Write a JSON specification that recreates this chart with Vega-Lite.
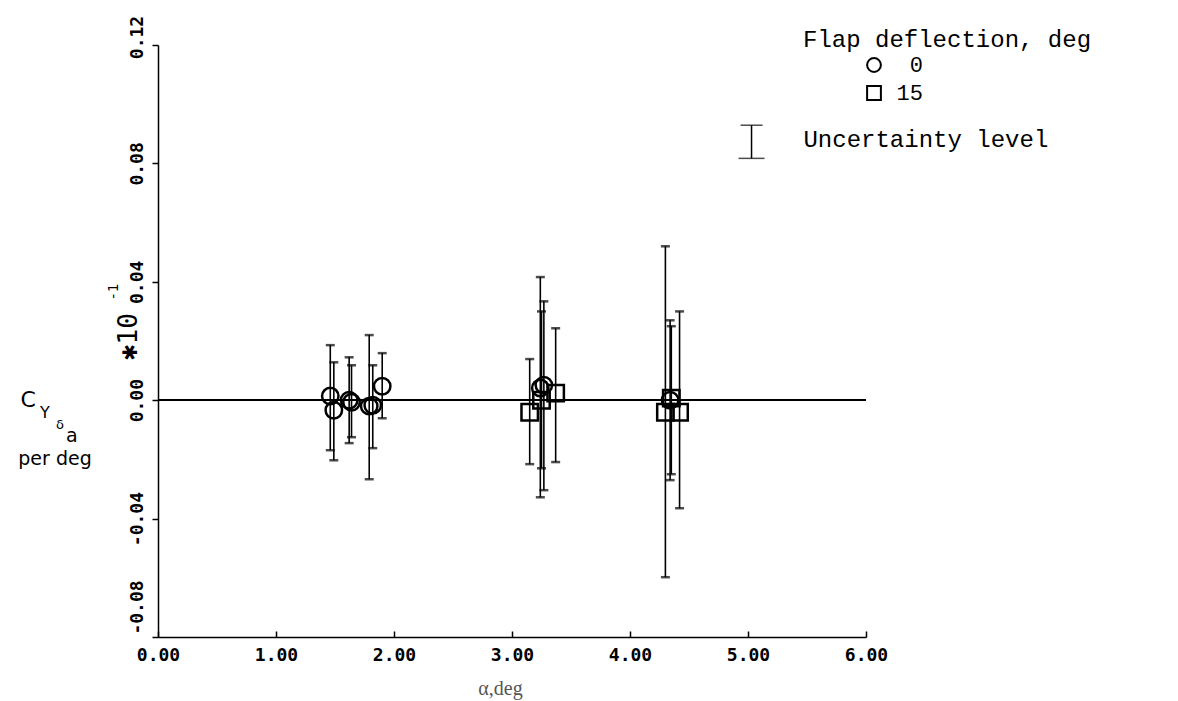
{
  "$schema": "https://vega.github.io/schema/vega-lite/v6.json",
  "width": 708,
  "height": 592,
  "autosize": "none",
  "padding": {"left": 158, "top": 45, "right": 312, "bottom": 64},
  "background": "white",
  "config": {"view": {"stroke": null}, "font": "DejaVu Sans"},
  "datasets": {
    "pts": [
      {"alpha": 1.46, "cy": 0.0014, "lo": -0.0169, "hi": 0.0186, "flap": "0"},
      {"alpha": 1.49, "cy": -0.0034, "lo": -0.0203, "hi": 0.0128, "flap": "0"},
      {"alpha": 1.62, "cy": 0.0, "lo": -0.0145, "hi": 0.0145, "flap": "0"},
      {"alpha": 1.64, "cy": -0.0007, "lo": -0.0125, "hi": 0.0118, "flap": "0"},
      {"alpha": 1.79, "cy": -0.002, "lo": -0.0267, "hi": 0.022, "flap": "0"},
      {"alpha": 1.82, "cy": -0.0017, "lo": -0.0162, "hi": 0.0118, "flap": "0"},
      {"alpha": 1.9, "cy": 0.0047, "lo": -0.0061, "hi": 0.0159, "flap": "0"},
      {"alpha": 3.24, "cy": 0.0041, "lo": -0.0328, "hi": 0.0416, "flap": "0"},
      {"alpha": 3.27, "cy": 0.0051, "lo": -0.0304, "hi": 0.0334, "flap": "0"},
      {"alpha": 4.34, "cy": 0.0, "lo": -0.027, "hi": 0.027, "flap": "0"},
      {"alpha": 3.15, "cy": -0.0041, "lo": -0.0216, "hi": 0.0139, "flap": "15"},
      {"alpha": 3.25, "cy": 0.0, "lo": -0.023, "hi": 0.03, "flap": "15"},
      {"alpha": 3.37, "cy": 0.0024, "lo": -0.0209, "hi": 0.0243, "flap": "15"},
      {"alpha": 4.3, "cy": -0.0041, "lo": -0.0598, "hi": 0.052, "flap": "15"},
      {"alpha": 4.42, "cy": -0.0041, "lo": -0.0365, "hi": 0.03, "flap": "15"},
      {"alpha": 4.35, "cy": 0.0007, "lo": -0.025, "hi": 0.025, "flap": "15"}
    ],
    "unc": [{"alpha": 5.03, "lo": 0.0817, "hi": 0.0929}],
    "notes": [
      {"id": "unc", "alpha": 5.47, "cy": 0.0878, "label": "Uncertainty level"},
      {"id": "C", "alpha": -1.1, "cy": 0.0, "label": "C"},
      {"id": "Y", "alpha": -0.958, "cy": -0.0044, "label": "Y"},
      {"id": "d", "alpha": -0.83, "cy": -0.0084, "label": "δ"},
      {"id": "a", "alpha": -0.73, "cy": -0.012, "label": "a"},
      {"id": "per", "alpha": -0.873, "cy": -0.0199, "label": "per deg"},
      {"id": "mult", "alpha": -0.25, "cy": 0.0215, "label": "✱10"},
      {"id": "exp", "alpha": -0.37, "cy": 0.0365, "label": "-1"}
    ]
  },
  "layer": [
    {
      "data": {"name": "pts"},
      "mark": {"type": "rule", "color": "black", "strokeWidth": 1.6},
      "encoding": {
        "x": {
          "field": "alpha", "type": "quantitative",
          "scale": {"domain": [0, 6]},
          "axis": {
            "values": [0, 1, 2, 3, 4, 5, 6], "format": ".2f", "grid": false, "labelFlush": false,
            "title": "α,deg", "titleFont": "Liberation Serif", "titleFontSize": 20,
            "titleFontWeight": "normal", "titleColor": "#555", "titlePadding": 14, "titleX": 342,
            "labelFont": "DejaVu Sans Mono", "labelFontWeight": "bold", "labelFontSize": 18,
            "labelColor": "black", "labelPadding": 15,
            "domainColor": "black", "domainWidth": 1.5,
            "tickColor": "black", "tickWidth": 1.5, "tickSize": -6
          }
        },
        "y": {
          "field": "lo", "type": "quantitative",
          "scale": {"domain": [-0.08, 0.12]},
          "axis": {
            "values": [-0.08, -0.04, 0, 0.04, 0.08, 0.12], "grid": false, "title": null, "labelFlush": false,
            "labelExpr": "replace(format(datum.value, '.2f'), '−', '-')",
            "labelAngle": 270, "labelAlign": "center", "labelBaseline": "bottom",
            "labelOffset": {"condition": [{"test": "datum.value < -0.07", "value": -30}, {"test": "datum.value > 0.11", "value": -8}], "value": 0},
            "labelFont": "DejaVu Sans Mono", "labelFontWeight": "bold", "labelFontSize": 18,
            "labelColor": "black", "labelPadding": 6,
            "domainColor": "black", "domainWidth": 1.5,
            "tickColor": "black", "tickWidth": 1.5, "tickSize": 6
          }
        },
        "y2": {"field": "hi"}
      }
    },
    {
      "data": {"name": "pts"},
      "mark": {"type": "rule", "color": "black", "strokeWidth": 1.5},
      "encoding": {
        "y": {"datum": 0, "type": "quantitative", "scale": {"domain": [-0.08, 0.12]}},
        "x": {"datum": 0, "type": "quantitative", "scale": {"domain": [0, 6]}},
        "x2": {"datum": 6}
      }
    },
    {
      "data": {"name": "pts"},
      "mark": {"type": "tick", "orient": "horizontal", "color": "black", "size": 9, "thickness": 2.5},
      "encoding": {
        "x": {"field": "alpha", "type": "quantitative", "scale": {"domain": [0, 6]}},
        "y": {"field": "lo", "type": "quantitative", "scale": {"domain": [-0.08, 0.12]}}
      }
    },
    {
      "data": {"name": "pts"},
      "mark": {"type": "tick", "orient": "horizontal", "color": "black", "size": 9, "thickness": 2.5},
      "encoding": {
        "x": {"field": "alpha", "type": "quantitative", "scale": {"domain": [0, 6]}},
        "y": {"field": "hi", "type": "quantitative", "scale": {"domain": [-0.08, 0.12]}}
      }
    },
    {
      "data": {"name": "pts"},
      "mark": {"type": "point", "filled": false, "color": "black", "strokeWidth": 2.5, "size": 270, "opacity": 1},
      "encoding": {
        "x": {"field": "alpha", "type": "quantitative", "scale": {"domain": [0, 6]}},
        "y": {"field": "cy", "type": "quantitative", "scale": {"domain": [-0.08, 0.12]}},
        "shape": {
          "field": "flap", "type": "nominal",
          "scale": {"domain": ["0", "15"], "range": ["circle", "square"]},
          "legend": {
            "title": "Flap deflection, deg", "orient": "none", "legendX": 645, "legendY": -17,
            "padding": 0, "titleFont": "Liberation Mono", "titleFontSize": 24, "titleLimit": 0,
            "titleFontWeight": "normal", "titleColor": "black", "titlePadding": 2,
            "labelFont": "Liberation Mono", "labelFontSize": 22, "labelColor": "black",
            "labelAlign": "right", "labelOffset": 38, "symbolOffset": 60, "labelLimit": 0,
            "symbolSize": 190, "symbolStrokeWidth": 2, "symbolStrokeColor": "black",
            "symbolFillColor": "white", "rowPadding": 6
          }
        }
      }
    },
    {
      "data": {"name": "unc"},
      "mark": {"type": "rule", "color": "black", "strokeWidth": 1.5},
      "encoding": {
        "x": {"field": "alpha", "type": "quantitative", "scale": {"domain": [0, 6]}},
        "y": {"field": "lo", "type": "quantitative", "scale": {"domain": [-0.08, 0.12]}},
        "y2": {"field": "hi"}
      }
    },
    {
      "data": {"name": "unc"},
      "mark": {"type": "tick", "orient": "horizontal", "color": "black", "size": 26, "thickness": 1.5},
      "encoding": {
        "x": {"field": "alpha", "type": "quantitative", "scale": {"domain": [0, 6]}},
        "y": {"field": "lo", "type": "quantitative", "scale": {"domain": [-0.08, 0.12]}}
      }
    },
    {
      "data": {"name": "unc"},
      "mark": {"type": "tick", "orient": "horizontal", "color": "black", "size": 22, "thickness": 1.5},
      "encoding": {
        "x": {"field": "alpha", "type": "quantitative", "scale": {"domain": [0, 6]}},
        "y": {"field": "hi", "type": "quantitative", "scale": {"domain": [-0.08, 0.12]}}
      }
    },
    {
      "data": {"name": "notes"},
      "transform": [{"filter": {"field": "id", "equal": "unc"}}],
      "mark": {"type": "text", "font": "Liberation Mono", "fontSize": 24, "align": "left", "baseline": "middle", "color": "black"},
      "encoding": {
        "x": {"field": "alpha", "type": "quantitative", "scale": {"domain": [0, 6]}},
        "y": {"field": "cy", "type": "quantitative", "scale": {"domain": [-0.08, 0.12]}},
        "text": {"field": "label"}
      }
    },
    {
      "data": {"name": "notes"},
      "transform": [{"filter": {"field": "id", "equal": "C"}}],
      "mark": {"type": "text", "font": "DejaVu Sans", "fontSize": 22, "align": "center", "baseline": "middle", "color": "black"},
      "encoding": {
        "x": {"field": "alpha", "type": "quantitative", "scale": {"domain": [0, 6]}},
        "y": {"field": "cy", "type": "quantitative", "scale": {"domain": [-0.08, 0.12]}},
        "text": {"field": "label"}
      }
    },
    {
      "data": {"name": "notes"},
      "transform": [{"filter": {"field": "id", "equal": "Y"}}],
      "mark": {"type": "text", "font": "DejaVu Sans", "fontSize": 16, "align": "center", "baseline": "middle", "color": "black"},
      "encoding": {
        "x": {"field": "alpha", "type": "quantitative", "scale": {"domain": [0, 6]}},
        "y": {"field": "cy", "type": "quantitative", "scale": {"domain": [-0.08, 0.12]}},
        "text": {"field": "label"}
      }
    },
    {
      "data": {"name": "notes"},
      "transform": [{"filter": {"field": "id", "equal": "d"}}],
      "mark": {"type": "text", "font": "DejaVu Sans", "fontSize": 13, "align": "center", "baseline": "middle", "color": "black"},
      "encoding": {
        "x": {"field": "alpha", "type": "quantitative", "scale": {"domain": [0, 6]}},
        "y": {"field": "cy", "type": "quantitative", "scale": {"domain": [-0.08, 0.12]}},
        "text": {"field": "label"}
      }
    },
    {
      "data": {"name": "notes"},
      "transform": [{"filter": {"field": "id", "oneOf": ["a", "per"]}}],
      "mark": {"type": "text", "font": "DejaVu Sans", "fontSize": 19, "align": "center", "baseline": "middle", "color": "black"},
      "encoding": {
        "x": {"field": "alpha", "type": "quantitative", "scale": {"domain": [0, 6]}},
        "y": {"field": "cy", "type": "quantitative", "scale": {"domain": [-0.08, 0.12]}},
        "text": {"field": "label"}
      }
    },
    {
      "data": {"name": "notes"},
      "transform": [{"filter": {"field": "id", "equal": "mult"}}],
      "mark": {"type": "text", "font": "DejaVu Sans Mono", "fontSize": 26, "angle": 270, "align": "center", "baseline": "middle", "color": "black"},
      "encoding": {
        "x": {"field": "alpha", "type": "quantitative", "scale": {"domain": [0, 6]}},
        "y": {"field": "cy", "type": "quantitative", "scale": {"domain": [-0.08, 0.12]}},
        "text": {"field": "label"}
      }
    },
    {
      "data": {"name": "notes"},
      "transform": [{"filter": {"field": "id", "equal": "exp"}}],
      "mark": {"type": "text", "font": "DejaVu Sans Mono", "fontSize": 14, "angle": 270, "align": "center", "baseline": "middle", "color": "black"},
      "encoding": {
        "x": {"field": "alpha", "type": "quantitative", "scale": {"domain": [0, 6]}},
        "y": {"field": "cy", "type": "quantitative", "scale": {"domain": [-0.08, 0.12]}},
        "text": {"field": "label"}
      }
    }
  ]
}
